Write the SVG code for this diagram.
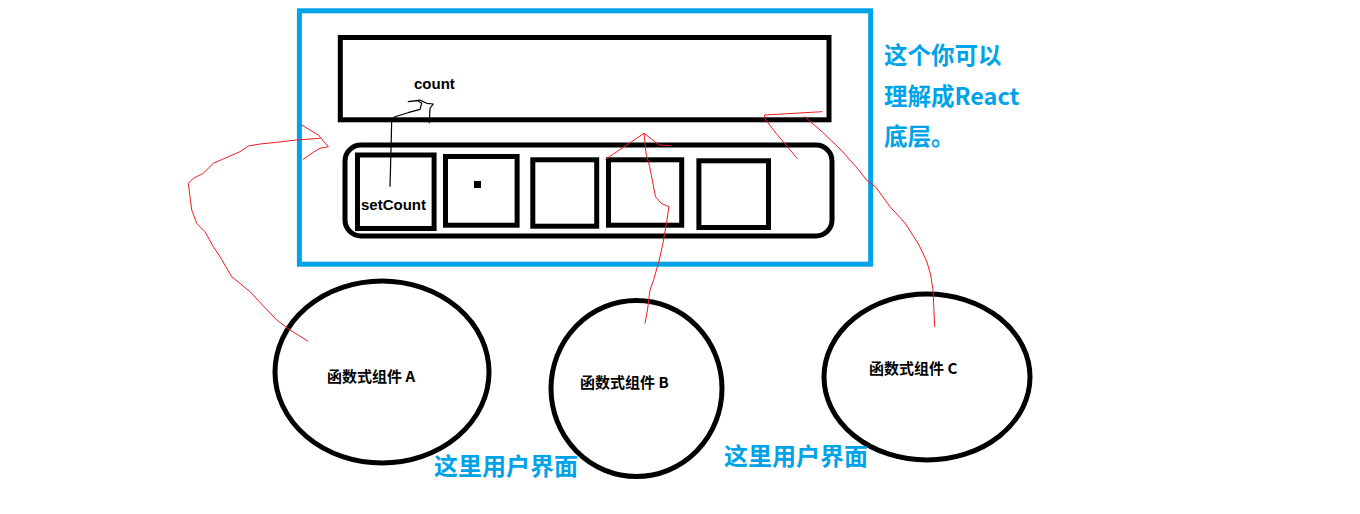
<svg xmlns="http://www.w3.org/2000/svg" width="1360" height="514" viewBox="0 0 1360 514">
<style>
.box{fill:none;stroke:#000;stroke-width:5}
.blue{fill:none;stroke:#00a2e8;stroke-width:5}
.red{fill:none;stroke:#ed1c24;stroke-width:1;stroke-linejoin:round;stroke-linecap:round}
.blk{fill:none;stroke:#000;stroke-width:1.2;stroke-linejoin:round}
.lbl{font-family:"Liberation Sans","Noto Sans CJK SC",sans-serif;font-weight:bold;font-size:15px;fill:#000}
.cjk{font-family:"Noto Sans CJK SC","Liberation Sans",sans-serif;font-weight:bold;font-size:15px;fill:#000}
.note{font-family:"Noto Sans CJK SC","Liberation Sans",sans-serif;font-weight:bold;font-size:23.5px;fill:#00a2e8}
.ui{font-family:"Noto Sans CJK SC","Liberation Sans",sans-serif;font-weight:bold;font-size:24px;fill:#00a2e8}
</style>
<rect width="1360" height="514" fill="#fff"/>
<g id="react-core">
<rect class="blue" x="299.4" y="10.8" width="571.3" height="253.4"/>
</g>
<g id="state-bar">
<rect class="box" x="340.3" y="37.5" width="488.7" height="82.3"/>
<text class="lbl" x="414" y="89">count</text>
</g>
<g id="hooks-list">
<rect class="box" x="345" y="145" width="487" height="91" rx="16"/>
</g>
<g id="slot-1">
<rect class="box" x="357.5" y="155" width="76.6" height="73.5"/>
<text class="lbl" x="361" y="210">setCount</text>
</g>
<g id="slot-2">
<rect class="box" x="445.5" y="156.5" width="71.6" height="68.7"/>
<rect x="474" y="181" width="7" height="7" fill="#000"/>
</g>
<g id="slot-3">
<rect class="box" x="532.8" y="159.8" width="63.9" height="66.4"/>
</g>
<g id="slot-4">
<rect class="box" x="608.5" y="159.8" width="73.2" height="65.4"/>
</g>
<g id="slot-5">
<rect class="box" x="698.9" y="160.8" width="69.6" height="66.7"/>
</g>
<g id="note">
<text class="note" x="884" y="64">这个你可以</text>
<text class="note" x="884" y="105">理解成React</text>
<text class="note" x="884" y="145">底层。</text>
</g>
<g id="component-a">
<ellipse class="box" cx="382" cy="372" rx="107" ry="91"/>
<text class="cjk" x="327" y="382">函数式组件 A</text>
</g>
<g id="component-b">
<ellipse class="box" cx="636.5" cy="388.5" rx="85.5" ry="88"/>
<text class="cjk" x="580" y="388">函数式组件 B</text>
</g>
<g id="component-c">
<ellipse class="box" cx="927" cy="377" rx="103" ry="83"/>
<text class="cjk" x="869" y="374">函数式组件 C</text>
</g>
<g id="ui-labels">
<text class="ui" x="434" y="475">这里用户界面</text>
<text class="ui" x="724" y="465">这里用户界面</text>
</g>
<g id="connectors">
<path class="blk" d="M390,186.7 L391,150 L391.7,120 L395,116.7 L408,112.7 L420,109.3 L421.7,103.3 L418,100.7 L408.3,101.7 L420,100 L426.7,103.3 L433.3,104 L430,108.3 L429.3,123.3"/>
<path class="red" d="M307.7,341 L290,330 L276.7,320 L250,291.7 L231.7,276.7 L220,256.7 L213.3,246.7 L205,231.7 L196.7,223.3 L191.7,210 L188.3,183.3 L193.3,178.3 L203.3,173.3 L213.3,163.3 L240,151.7 L248.3,146 L260,144 L276.7,142.3 L296.7,140 L320,138.3"/>
<path class="red" d="M301.7,125 L318.3,135 L328.3,146.7 L320,148.3 L313.3,152.3 L303.3,159.3"/>
<path class="red" d="M605.7,159.3 L644,133.3 L659.3,145 L670.8,145.7"/>
<path class="red" d="M644,133.3 L646,153 L649.7,166.7 L655.5,196.7 L661.2,203.3 L668.9,206.7 L667,220 L663,243 L659.3,260 L653.6,280 L650,290 L647.5,310 L645,323.3"/>
<path class="red" d="M822,111.7 L764.6,115 L764.6,118.3 L776,133.3 L787.5,146.7 L797,158.3"/>
<path class="red" d="M804.7,116.7 L822,131.7 L841,150 L856,166.7 L868,181.7 L875.5,186.7 L890,206.7 L905,223 L919,245 L927,262 L930.7,275 L933,290 L934.7,326.7"/>
</g>
</svg>
